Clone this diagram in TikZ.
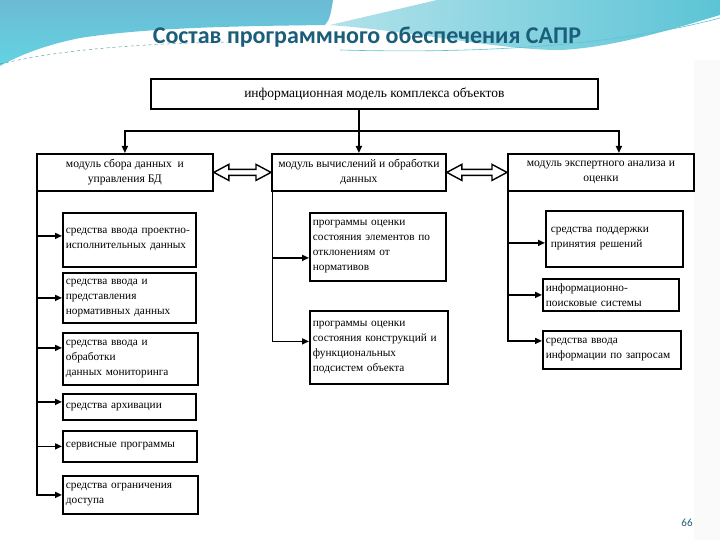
\documentclass[tikz,border=0pt]{standalone}
\usepackage{fontspec}
\setmainfont{Liberation Serif}
\newfontfamily\titlefont{Carlito}
\usetikzlibrary{calc,arrows.meta}
\definecolor{titlec}{RGB}{27,94,122}
\definecolor{tealA}{RGB}{108,186,212}
\definecolor{tealB}{RGB}{98,212,226}
\definecolor{tealC}{RGB}{178,226,234}
\definecolor{tealD}{RGB}{92,196,214}
\begin{document}
\begin{tikzpicture}[x=1pt,y=-1pt,
  box/.style={draw, line width=1.8pt, inner sep=0pt, inner xsep=3pt},
  sub/.style={box, align=left, font=\fontsize{11.3}{15}\selectfont, anchor=north west},
  mod/.style={box, align=center, font=\fontsize{11.6}{15}\selectfont, anchor=north west},
  conn/.style={line width=1.5pt},
  arr/.style={conn, -{Triangle[length=7pt,width=6pt]}},
  dbl/.style={draw, line width=1.4pt, fill=white, line join=miter}]
\useasboundingbox (0,0) rectangle (720,540);
\fill[white] (0,0) rectangle (720,540);
\fill[black!2] (694,60) rectangle (720,540);
% background waves
\shade[top color=tealA, bottom color=tealB]
  (0,0) -- (333,0) .. controls (331,12) and (330,20) .. (325,25)
  .. controls (250,26) and (150,27) .. (80,38)
  .. controls (45,45) and (20,55) .. (0,66) -- cycle;
\shade[left color=tealC, right color=tealD]
  (330,25) -- (437,0) -- (720,0) -- (720,15)
  .. controls (670,30) and (610,48) .. (560,50)
  .. controls (500,50) and (420,32) .. cycle;
\draw[tealD!70!black, dashed, line width=0.4pt] (0,64) .. controls (60,50) and (130,44) .. (230,42);
\draw[tealD, line width=0.6pt] (340,50) .. controls (450,53) and (600,50) .. (720,18);
% title
\node[font=\titlefont\bfseries\fontsize{24}{28}\selectfont, text=titlec] (title) at (367,37) {Состав программного обеспечения САПР};
\node[font=\titlefont\fontsize{11}{11}\selectfont, text=titlec] (pn) at (687,523) {66};
% top box
\node[mod, minimum width=447pt, minimum height=30pt, font=\fontsize{13.5}{15}\selectfont] (top) at (150,78) {информационная модель комплекса объектов};
% modules
\node[mod, minimum width=176pt, minimum height=37pt] (lm) at (36,153) {модуль сбора данных\ \ и\\управления БД};
\node[mod, minimum width=174pt, minimum height=37pt] (mm) at (271,153) {модуль вычислений и обработки\\данных};
\node[mod, minimum width=186pt, minimum height=37pt] (rm) at (507,153) {модуль экспертного анализа и\\оценки};
% left subs
\node[sub, minimum width=133pt, minimum height=54pt, text width=127pt] (l1) at (62,212) {средства ввода проектно-\\исполнительных данных};
\node[sub, minimum width=133pt, minimum height=50pt, text width=127pt] (l2) at (62,272) {средства ввода и\\представления\\нормативных данных};
\node[sub, minimum width=135pt, minimum height=52pt, text width=129pt] (l3) at (62,332) {средства ввода и\\обработки\\данных мониторинга};
\node[sub, minimum width=133pt, minimum height=26pt, text width=127pt] (l4) at (62,393) {средства архивации};
\node[sub, minimum width=134pt, minimum height=31pt, text width=128pt] (l5) at (62,430) {сервисные программы};
\node[sub, minimum width=135pt, minimum height=38pt, text width=129pt] (l6) at (62,475) {средства ограничения\\доступа};
% middle subs
\node[sub, minimum width=136pt, minimum height=68pt, text width=130pt] (m1) at (309,212) {программы оценки\\состояния элементов по\\отклонениям от\\нормативов};
\node[sub, minimum width=138pt, minimum height=73pt, text width=132pt] (m2) at (309,310) {программы оценки\\состояния конструкций и\\функциональных\\подсистем объекта};
% right subs
\node[sub, minimum width=137pt, minimum height=56pt, text width=127pt, inner xsep=5pt] (r1) at (545,210) {средства поддержки\\принятия решений};
\node[sub, minimum width=136pt, minimum height=32pt, text width=130pt] (r2) at (542,278) {информационно-\\поисковые системы};
\node[sub, minimum width=138pt, minimum height=38pt, text width=132pt] (r3) at (542,330) {средства ввода\\информации по запросам};
% top connectors
\coordinate (hub) at (358,131);
\draw[arr] (top.south -| mm.north) -- (mm.north);
\draw[arr] (hub) -| (lm.north);
\draw[arr] (hub) -| ([xshift=18pt]rm.north);
% double arrows
\draw[dbl] (lm.east) -- ++(15,-8) -- ++(0,5) -- ($(mm.west)+(-15,-3)$) -- ++(0,-5) -- (mm.west)
  -- ++(-15,8) -- ++(0,-5) -- ($(lm.east)+(15,3)$) -- ++(0,5) -- cycle;
\draw[dbl] (mm.east) -- ++(15,-8) -- ++(0,5) -- ($(rm.west)+(-15,-3)$) -- ++(0,-5) -- (rm.west)
  -- ++(-15,8) -- ++(0,-5) -- ($(mm.east)+(15,3)$) -- ++(0,5) -- cycle;
% left trunk
\coordinate (lt) at ([xshift=1pt]lm.south west);
\draw[arr] (lt) |- (l6.west);
\draw[arr] ([yshift=4pt]lt |- l1.west) -- ([yshift=4pt]l1.west);
\draw[arr] (lt |- l2.west) -- (l2.west);
\draw[arr] ([yshift=11pt]lt |- l3.west) -- ([yshift=11pt]l3.west);
\draw[arr] ([yshift=5pt]lt |- l4.west) -- ([yshift=5pt]l4.west);
\draw[arr] (lt |- l5.west) -- (l5.west);
% middle trunk
\coordinate (mt) at ([xshift=1.5pt]mm.south west);
\draw[arr] (mt) |- ([yshift=6pt]m2.west);
\draw[arr] ([yshift=-11pt]mt |- m1.west) -- ([yshift=-11pt]m1.west);
% right trunk
\coordinate (rt) at ([xshift=1pt]rm.south west);
\draw[arr] (rt) |- ([yshift=9pt]r3.west);
\draw[arr] ([yshift=-4pt]rt |- r1.west) -- ([yshift=-4pt]r1.west);
\draw[arr] (rt |- r2.west) -- (r2.west);
\end{tikzpicture}
\end{document}
